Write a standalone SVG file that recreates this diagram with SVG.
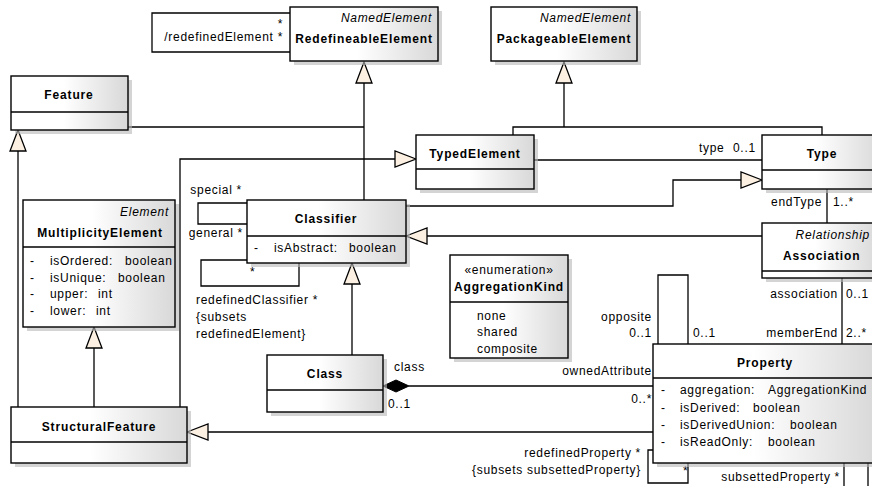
<svg xmlns="http://www.w3.org/2000/svg" width="872" height="486" viewBox="0 0 872 486">
<defs>
<linearGradient id="g" x1="0" y1="0" x2="1" y2="0">
<stop offset="0" stop-color="#ffffff"/>
<stop offset="0.45" stop-color="#ffffff"/>
<stop offset="1" stop-color="#d8d8d8"/>
</linearGradient>
<style>
text{font-family:"Liberation Sans",Arial,sans-serif;font-size:12px;letter-spacing:0.7px;fill:#000}
.b{font-weight:bold;letter-spacing:0.85px}
.i{font-style:italic}
.c{text-anchor:middle}
.e{text-anchor:end}
.box{fill:url(#g);stroke:#000;stroke-width:1.4}
.sh{fill:#b8b8b8;opacity:0.6}
.ln{fill:none;stroke:#000;stroke-width:1.3}
.tri{fill:#fbf0e1;stroke:#000;stroke-width:1.3}
.dia{fill:#000;stroke:#000;stroke-width:1}
</style>
</defs>
<rect width="872" height="486" fill="#fff"/>

<g id="connectors">
<polyline class="ln" points="290,13 152,13 152,52 290,52"/>
<line class="ln" x1="364" y1="83" x2="364" y2="200"/>
<line class="ln" x1="128" y1="127" x2="364" y2="127"/>
<polyline class="ln" points="564,83 564,127"/>
<polyline class="ln" points="513,135 513,127 822,127 822,135"/>
<polyline class="ln" points="180,407 180,159 395,159"/>
<line class="ln" x1="534" y1="160" x2="762" y2="160"/>
<polyline class="ln" points="406,206 673,206 673,180 741,180"/>
<line class="ln" x1="427" y1="236" x2="762" y2="236"/>
<line class="ln" x1="827" y1="189" x2="827" y2="223"/>
<line class="ln" x1="842" y1="278" x2="842" y2="344"/>
<polyline class="ln" points="247,203 198,203 198,224 247,224"/>
<polyline class="ln" points="247,260 201,260 201,286 299,286 299,263"/>
<line class="ln" x1="352" y1="284" x2="352" y2="355"/>
<line class="ln" x1="409" y1="386" x2="653" y2="386"/>
<line class="ln" x1="208" y1="432" x2="653" y2="432"/>
<line class="ln" x1="94" y1="348" x2="94" y2="407"/>
<line class="ln" x1="18" y1="151" x2="18" y2="407"/>
<polyline class="ln" points="658,344 658,275 688,275 688,344"/>
<polyline class="ln" points="653,450 648,450 648,483 688,483 688,463"/>
<line class="ln" x1="844" y1="463" x2="844" y2="490"/>
<line class="ln" x1="868" y1="463" x2="868" y2="490"/>

<polygon class="tri" points="364,62 356,83 372,83"/>
<polygon class="tri" points="564,62 556,83 572,83"/>
<polygon class="tri" points="416,159 395,151 395,167"/>
<polygon class="tri" points="762,180 741,172 741,188"/>
<polygon class="tri" points="406,236 427,228 427,244"/>
<polygon class="tri" points="352,263 344,284 360,284"/>
<polygon class="tri" points="187,432 208,424 208,440"/>
<polygon class="tri" points="94,327 86,348 102,348"/>
<polygon class="tri" points="18,130 10,151 26,151"/>
<polygon class="dia" points="383,386 396,380 409,386 396,392"/>

<text class="e" x="283" y="28">*</text>
<text class="e" x="283" y="41">/redefinedElement *</text>
<text class="e" x="242" y="194">special *</text>
<text class="e" x="243" y="237">general *</text>
<text x="250" y="276">*</text>
<text x="196" y="304">redefinedClassifier *</text>
<text x="196" y="321">{subsets</text>
<text x="196" y="338">redefinedElement}</text>
<text x="699" y="152">type</text>
<text x="733" y="152">0..1</text>
<text class="e" x="822" y="206">endType</text>
<text x="833" y="206">1..*</text>
<text class="e" x="838" y="298">association</text>
<text x="846" y="298">0..1</text>
<text class="e" x="838" y="337">memberEnd</text>
<text x="846" y="337">2..*</text>
<text class="e" x="652" y="321">opposite</text>
<text class="e" x="652" y="337">0..1</text>
<text x="693" y="337">0..1</text>
<text x="394" y="371">class</text>
<text x="388" y="408">0..1</text>
<text class="e" x="652" y="375">ownedAttribute</text>
<text class="e" x="652" y="403">0..*</text>
<text class="e" x="641" y="457">redefinedProperty *</text>
<text class="e" x="641" y="474">{subsets subsettedProperty}</text>
<text x="683" y="475">*</text>
<text class="e" x="840" y="481">subsettedProperty *</text>
</g>

<g id="RedefineableElement">
<rect class="sh" x="294" y="11" width="148" height="54"/>
<rect class="box" x="290" y="7" width="148" height="54"/>
<text class="i e" x="432" y="22">NamedElement</text>
<text class="b c" x="364" y="43">RedefineableElement</text>
</g>

<g id="PackageableElement">
<rect class="sh" x="495" y="11" width="146" height="54"/>
<rect class="box" x="491" y="7" width="146" height="54"/>
<text class="i e" x="631" y="22">NamedElement</text>
<text class="b c" x="564" y="43">PackageableElement</text>
</g>

<g id="Feature">
<rect class="sh" x="15" y="80" width="117" height="54"/>
<rect class="box" x="11" y="76" width="117" height="54"/>
<line class="ln" x1="11" y1="112" x2="128" y2="112"/>
<text class="b c" x="69" y="99">Feature</text>
</g>

<g id="TypedElement">
<rect class="sh" x="420" y="139" width="118" height="54"/>
<rect class="box" x="416" y="135" width="118" height="54"/>
<line class="ln" x1="416" y1="169" x2="534" y2="169"/>
<text class="b c" x="475" y="158">TypedElement</text>
</g>

<g id="Type">
<rect class="sh" x="766" y="139" width="120" height="54"/>
<rect class="box" x="762" y="135" width="120" height="54"/>
<line class="ln" x1="762" y1="170" x2="882" y2="170"/>
<text class="b c" x="822" y="158">Type</text>
</g>

<g id="Classifier">
<rect class="sh" x="251" y="204" width="159" height="63"/>
<rect class="box" x="247" y="200" width="159" height="63"/>
<line class="ln" x1="247" y1="236" x2="406" y2="236"/>
<text class="b c" x="326" y="223">Classifier</text>
<text x="254" y="252">-</text>
<text x="274" y="252">isAbstract:</text>
<text x="349" y="252">boolean</text>
</g>

<g id="Association">
<rect class="sh" x="766" y="227" width="118" height="55"/>
<rect class="box" x="762" y="223" width="118" height="55"/>
<line class="ln" x1="762" y1="271" x2="880" y2="271"/>
<text class="i e" x="870" y="239">Relationship</text>
<text class="b" x="783" y="260">Association</text>
</g>

<g id="MultiplicityElement">
<rect class="sh" x="27" y="204" width="152" height="127"/>
<rect class="box" x="23" y="200" width="152" height="127"/>
<line class="ln" x1="23" y1="247" x2="175" y2="247"/>
<text class="i e" x="169" y="216">Element</text>
<text class="b c" x="100" y="237">MultiplicityElement</text>
<text x="30" y="265">-</text><text x="50" y="265">isOrdered:</text><text x="125" y="265">boolean</text>
<text x="30" y="282">-</text><text x="50" y="282">isUnique:</text><text x="118" y="282">boolean</text>
<text x="30" y="298">-</text><text x="50" y="298">upper:</text><text x="98" y="298">int</text>
<text x="30" y="315">-</text><text x="50" y="315">lower:</text><text x="96" y="315">int</text>
</g>

<g id="AggregationKind">
<rect class="sh" x="454" y="259" width="118" height="103"/>
<rect class="box" x="450" y="255" width="118" height="103"/>
<line class="ln" x1="450" y1="302" x2="568" y2="302"/>
<text class="c" x="509" y="274">«enumeration»</text>
<text class="b c" x="509" y="291">AggregationKind</text>
<text x="477" y="320">none</text>
<text x="477" y="336">shared</text>
<text x="477" y="353">composite</text>
</g>

<g id="Class">
<rect class="sh" x="271" y="359" width="116" height="57"/>
<rect class="box" x="267" y="355" width="116" height="57"/>
<line class="ln" x1="267" y1="390" x2="383" y2="390"/>
<text class="b c" x="325" y="378">Class</text>
</g>

<g id="Property">
<rect class="sh" x="657" y="348" width="224" height="119"/>
<rect class="box" x="653" y="344" width="224" height="119"/>
<line class="ln" x1="653" y1="378" x2="877" y2="378"/>
<text class="b c" x="765" y="367">Property</text>
<text x="661" y="394">-</text><text x="680" y="394">aggregation:</text><text x="768" y="394">AggregationKind</text>
<text x="661" y="412">-</text><text x="680" y="412">isDerived:</text><text x="753" y="412">boolean</text>
<text x="661" y="429">-</text><text x="680" y="429">isDerivedUnion:</text><text x="790" y="429">boolean</text>
<text x="661" y="446">-</text><text x="680" y="446">isReadOnly:</text><text x="768" y="446">boolean</text>
</g>

<g id="StructuralFeature">
<rect class="sh" x="15" y="411" width="176" height="56"/>
<rect class="box" x="11" y="407" width="176" height="56"/>
<line class="ln" x1="11" y1="442" x2="187" y2="442"/>
<text class="b c" x="99" y="431">StructuralFeature</text>
</g>
</svg>
